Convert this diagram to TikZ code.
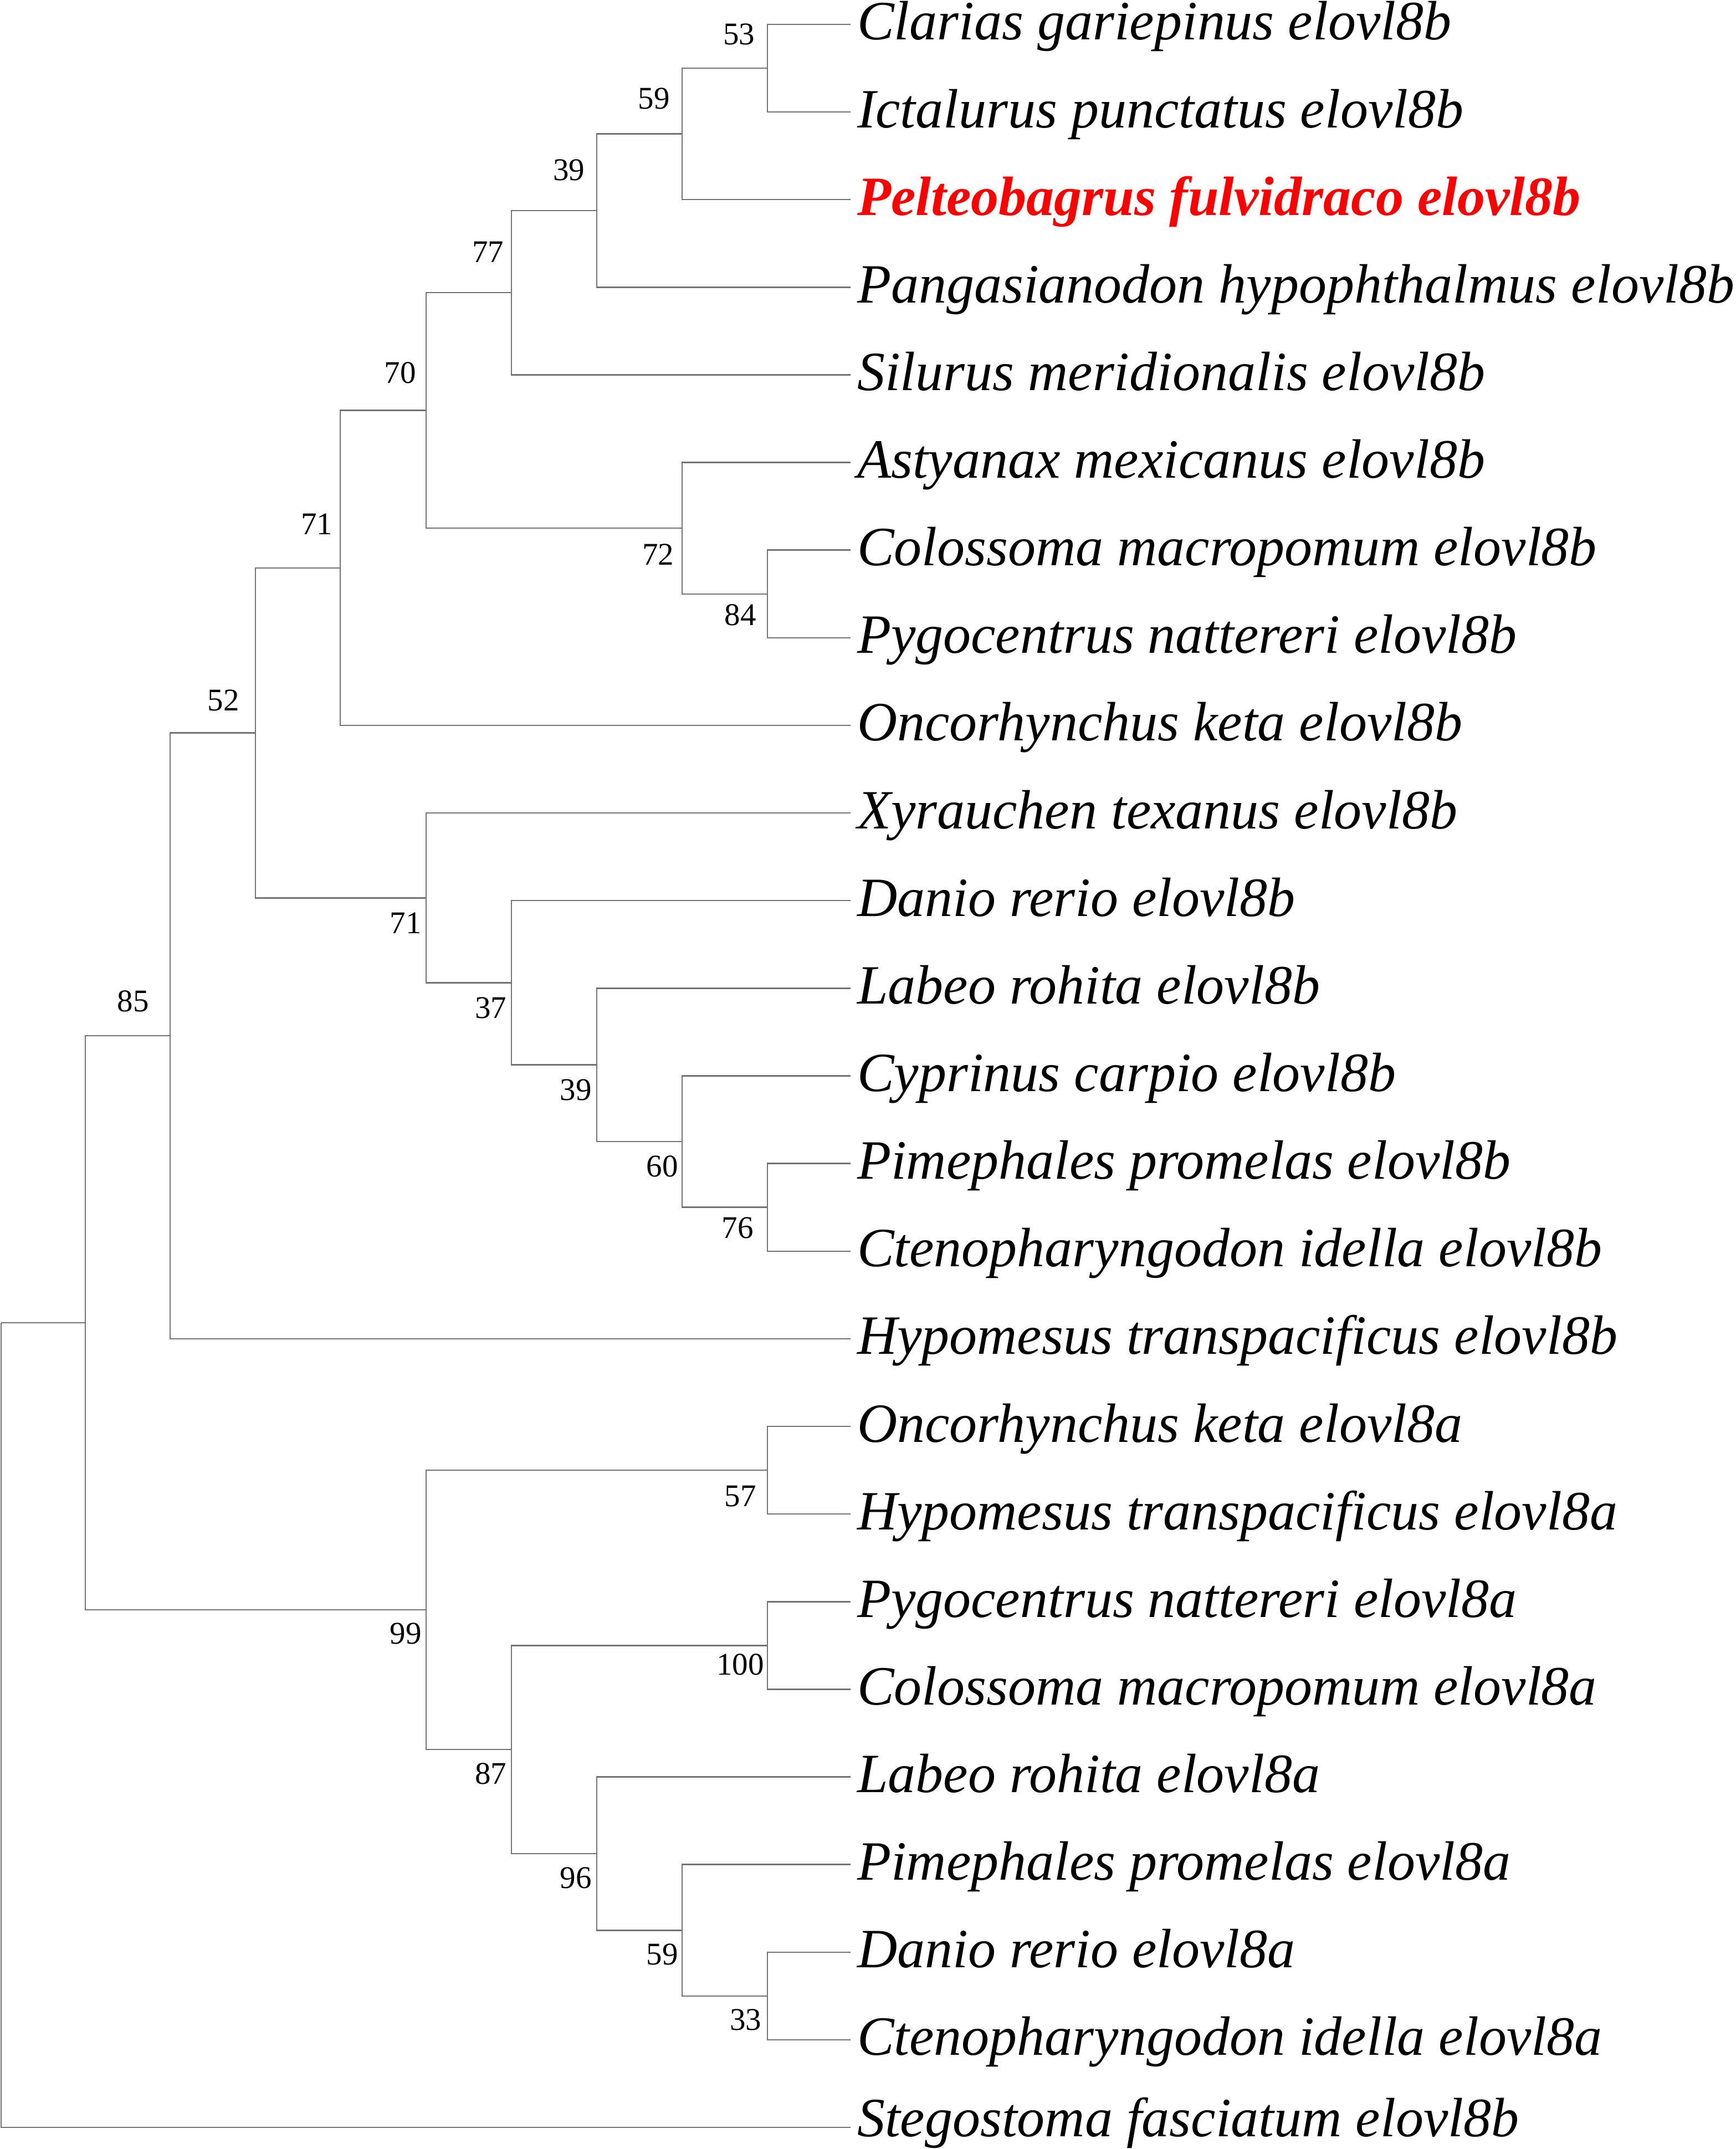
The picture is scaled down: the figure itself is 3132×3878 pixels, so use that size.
\documentclass[tikz,border=0pt]{standalone}
\usepackage{fontspec}
\setmainfont{Liberation Serif}
\begin{document}
\begin{tikzpicture}[x=0.1pt,y=-0.1pt,
  branch/.style={draw=black!55,line width=0.25pt},
  leaf/.style={anchor=base west,inner sep=0pt,xshift=1pt,yshift=-2.8pt,
    font=\fontsize{10}{12}\selectfont\itshape},
  boot/.style={inner sep=0pt,font=\fontsize{5.7}{7}\selectfont}]
\useasboundingbox (0,0) rectangle (3132,3878);
% leaves
\coordinate (l1) at (1535,44);
\coordinate (l2) at (1535,202.125);
\coordinate (l3) at (1535,360.25);
\coordinate (l4) at (1535,518.375);
\coordinate (l5) at (1535,676.5);
\coordinate (l6) at (1535,834.625);
\coordinate (l7) at (1535,992.75);
\coordinate (l8) at (1535,1150.875);
\coordinate (l9) at (1535,1309);
\coordinate (l10) at (1535,1467.125);
\coordinate (l11) at (1535,1625.25);
\coordinate (l12) at (1535,1783.375);
\coordinate (l13) at (1535,1941.5);
\coordinate (l14) at (1535,2099.625);
\coordinate (l15) at (1535,2257.75);
\coordinate (l16) at (1535,2415.875);
\coordinate (l17) at (1535,2574);
\coordinate (l18) at (1535,2732.125);
\coordinate (l19) at (1535,2890.25);
\coordinate (l20) at (1535,3048.375);
\coordinate (l21) at (1535,3206.5);
\coordinate (l22) at (1535,3364.625);
\coordinate (l23) at (1535,3522.75);
\coordinate (l24) at (1535,3680.875);
\coordinate (l25) at (1535,3839);
\node[leaf] (t1) at (l1) {Clarias gariepinus elovl8b};
\node[leaf] (t2) at (l2) {Ictalurus punctatus elovl8b};
\node[leaf,text=red,font=\fontsize{10}{12}\selectfont\bfseries\itshape] (t3) at (l3) {Pelteobagrus fulvidraco elovl8b};
\node[leaf] (t4) at (l4) {Pangasianodon hypophthalmus elovl8b};
\node[leaf] (t5) at (l5) {Silurus meridionalis elovl8b};
\node[leaf] (t6) at (l6) {Astyanax mexicanus elovl8b};
\node[leaf] (t7) at (l7) {Colossoma macropomum elovl8b};
\node[leaf] (t8) at (l8) {Pygocentrus nattereri elovl8b};
\node[leaf] (t9) at (l9) {Oncorhynchus keta elovl8b};
\node[leaf] (t10) at (l10) {Xyrauchen texanus elovl8b};
\node[leaf] (t11) at (l11) {Danio rerio elovl8b};
\node[leaf] (t12) at (l12) {Labeo rohita elovl8b};
\node[leaf] (t13) at (l13) {Cyprinus carpio elovl8b};
\node[leaf] (t14) at (l14) {Pimephales promelas elovl8b};
\node[leaf] (t15) at (l15) {Ctenopharyngodon idella elovl8b};
\node[leaf] (t16) at (l16) {Hypomesus transpacificus elovl8b};
\node[leaf] (t17) at (l17) {Oncorhynchus keta elovl8a};
\node[leaf] (t18) at (l18) {Hypomesus transpacificus elovl8a};
\node[leaf] (t19) at (l19) {Pygocentrus nattereri elovl8a};
\node[leaf] (t20) at (l20) {Colossoma macropomum elovl8a};
\node[leaf] (t21) at (l21) {Labeo rohita elovl8a};
\node[leaf] (t22) at (l22) {Pimephales promelas elovl8a};
\node[leaf] (t23) at (l23) {Danio rerio elovl8a};
\node[leaf] (t24) at (l24) {Ctenopharyngodon idella elovl8a};
\node[leaf,yshift=1.2pt] (t25) at (l25) {Stegostoma fasciatum elovl8b};
% inner nodes
\coordinate (K) at (1385,123.06);
\coordinate (J) at (1231,241.66);
\coordinate (I) at (1077,380.02);
\coordinate (G) at (923,528.26);
\coordinate (L) at (1385,1071.81);
\coordinate (H) at (1231,953.22);
\coordinate (F) at (769,740.74);
\coordinate (D) at (614,1024.87);
\coordinate (P) at (1385,2178.69);
\coordinate (O) at (1231,2060.09);
\coordinate (N) at (1077,1921.73);
\coordinate (M) at (923,1773.49);
\coordinate (E) at (769,1620.31);
\coordinate (C) at (461,1322.59);
\coordinate (B) at (307,1869.23);
\coordinate (R) at (1385,2653.06);
\coordinate (T) at (1385,2969.31);
\coordinate (W) at (1385,3601.81);
\coordinate (V) at (1231,3483.22);
\coordinate (U) at (1077,3344.86);
\coordinate (S) at (923,3157.09);
\coordinate (Q) at (769,2905.08);
\coordinate (A) at (154,2387.16);
\coordinate (root) at (2,2387.16);
% branches
\draw[branch] (K) |- (l1);
\draw[branch] (K) |- (l2);
\draw[branch] (J) |- (K);
\draw[branch] (J) |- (l3);
\draw[branch] (I) |- (J);
\draw[branch] (I) |- (l4);
\draw[branch] (G) |- (I);
\draw[branch] (G) |- (l5);
\draw[branch] (L) |- (l7);
\draw[branch] (L) |- (l8);
\draw[branch] (H) |- (l6);
\draw[branch] (H) |- (L);
\draw[branch] (F) |- (G);
\draw[branch] (F) |- (H);
\draw[branch] (D) |- (F);
\draw[branch] (D) |- (l9);
\draw[branch] (P) |- (l14);
\draw[branch] (P) |- (l15);
\draw[branch] (O) |- (l13);
\draw[branch] (O) |- (P);
\draw[branch] (N) |- (l12);
\draw[branch] (N) |- (O);
\draw[branch] (M) |- (l11);
\draw[branch] (M) |- (N);
\draw[branch] (E) |- (l10);
\draw[branch] (E) |- (M);
\draw[branch] (C) |- (D);
\draw[branch] (C) |- (E);
\draw[branch] (B) |- (C);
\draw[branch] (B) |- (l16);
\draw[branch] (R) |- (l17);
\draw[branch] (R) |- (l18);
\draw[branch] (T) |- (l19);
\draw[branch] (T) |- (l20);
\draw[branch] (W) |- (l23);
\draw[branch] (W) |- (l24);
\draw[branch] (V) |- (l22);
\draw[branch] (V) |- (W);
\draw[branch] (U) |- (l21);
\draw[branch] (U) |- (V);
\draw[branch] (S) |- (T);
\draw[branch] (S) |- (U);
\draw[branch] (Q) |- (R);
\draw[branch] (Q) |- (S);
\draw[branch] (A) |- (B);
\draw[branch] (A) |- (Q);
\draw[branch] (root) |- (A);
\draw[branch] (root) |- (l25);
% bootstrap values
\node[boot] (bK) at (1333.5,61.9) {53};
\node[boot] (bJ) at (1180,178) {59};
\node[boot] (bI) at (1026.7,306.8) {39};
\node[boot] (bG) at (880.7,455.2) {77};
\node[boot] (bF) at (722.4,672.9) {70};
\node[boot] (bD) at (571.5,946) {71};
\node[boot] (bC) at (403.3,1264) {52};
\node[boot] (bB) at (240,1807) {85};
\node[boot] (bH) at (1187.5,1001) {72};
\node[boot] (bL) at (1336,1110) {84};
\node[boot] (bE) at (732.3,1666) {71};
\node[boot] (bM) at (885.7,1819) {37};
\node[boot] (bN) at (1039,1967) {39};
\node[boot] (bO) at (1195,2105) {60};
\node[boot] (bP) at (1331,2216) {76};
\node[boot] (bR) at (1336,2700) {57};
\node[boot] (bQ) at (732.3,2948) {99};
\node[boot] (bT) at (1336,3004) {100};
\node[boot] (bS) at (885.7,3201) {87};
\node[boot] (bU) at (1039,3389) {96};
\node[boot] (bV) at (1195,3527) {59};
\node[boot] (bW) at (1345.9,3645) {33};
\end{tikzpicture}
\end{document}
